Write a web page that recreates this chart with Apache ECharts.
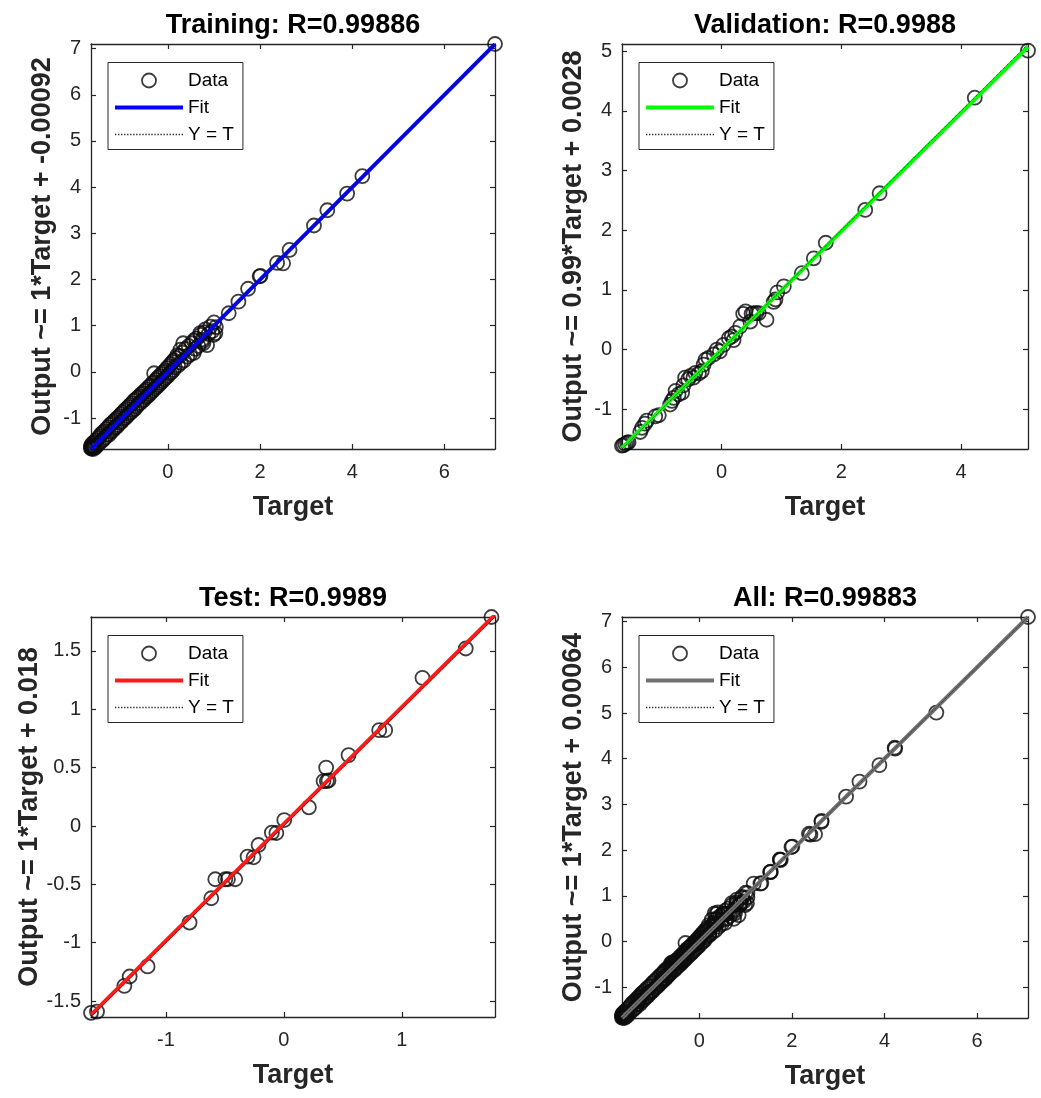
<!DOCTYPE html>
<html>
<head>
<meta charset="utf-8">
<title>Regression</title>
<script src="https://cdn.jsdelivr.net/npm/echarts@6/dist/echarts.min.js"></script>
<style>
  html, body { margin: 0; padding: 0; background: #ffffff; }
  #chart { width: 1041px; height: 1098px; }
</style>
</head>
<body>
<div id="chart"></div>
<script>
// [target, output] pairs for each data split
const trainingData = [
  [-1.67,-1.62],[-1.67,-1.66],[-1.66,-1.58],[-1.66,-1.64],[-1.65,-1.66],[-1.65,-1.61],[-1.64,-1.6],
  [-1.63,-1.55],[-1.62,-1.67],[-1.61,-1.62],[-1.6,-1.52],[-1.58,-1.64],[-1.56,-1.48],[-1.54,-1.6],
  [-1.52,-1.44],[-1.5,-1.55],[-1.48,-1.4],[-1.46,-1.36],[-1.44,-1.5],[-1.42,-1.32],[-1.4,-1.46],
  [-1.38,-1.29],[-1.36,-1.42],[-1.34,-1.24],[-1.32,-1.36],[-1.3,-1.2],[-1.28,-1.36],[-1.26,-1.15],
  [-1.24,-1.3],[-1.22,-1.12],[-1.2,-1.27],[-1.18,-1.08],[-1.16,-1.22],[-1.14,-1.04],[-1.12,-1.19],
  [-1.1,-1.0],[-1.08,-1.15],[-1.06,-0.97],[-1.04,-1.1],[-1.02,-0.92],[-1.0,-1.07],[-0.98,-0.88],
  [-0.96,-1.02],[-0.94,-0.84],[-0.92,-0.99],[-0.9,-0.8],[-0.88,-0.95],[-0.86,-0.76],[-0.84,-0.9],
  [-0.82,-0.72],[-0.8,-0.87],[-0.78,-0.68],[-0.76,-0.83],[-0.74,-0.63],[-0.72,-0.8],[-0.7,-0.6],
  [-0.68,-0.75],[-0.66,-0.56],[-0.64,-0.7],[-0.62,-0.53],[-0.6,-0.67],[-0.58,-0.48],[-0.56,-0.63],
  [-0.54,-0.46],[-0.52,-0.6],[-0.5,-0.41],[-0.48,-0.55],[-0.46,-0.38],[-0.44,-0.52],[-0.42,-0.33],
  [-0.4,-0.48],[-0.38,-0.3],[-0.36,-0.44],[-0.34,-0.25],[-0.32,-0.4],[-0.3,-0.03],[-0.3,-0.22],
  [-0.28,-0.36],[-0.26,-0.17],[-0.24,-0.32],[-0.22,-0.13],[-0.2,-0.28],[-0.18,-0.09],[-0.16,-0.24],
  [-0.14,-0.05],[-0.12,-0.2],[-0.1,-0.01],[-0.08,-0.16],[-0.06,0.03],[-0.04,-0.12],[-0.02,0.08],
  [0.0,-0.08],[0.02,0.12],[0.04,-0.03],[0.06,0.17],[0.08,0.0],[0.1,0.21],[0.12,0.04],[0.13,0.25],
  [0.15,0.1],[0.18,0.3],[0.2,0.36],[0.22,0.14],[0.25,0.34],[0.27,0.48],[0.28,0.2],[0.32,0.42],
  [0.33,0.62],[0.35,0.25],[0.38,0.5],[0.42,0.33],[0.45,0.56],[0.48,0.38],[0.52,0.62],[0.56,0.41],
  [0.56,0.68],[0.59,0.5],[0.62,0.72],[0.66,0.56],[0.7,0.84],[0.71,0.8],[0.74,0.7],[0.75,0.66],
  [0.77,0.62],[0.8,0.86],[0.81,0.92],[0.85,0.58],[0.88,0.82],[0.92,0.98],[0.96,0.88],[0.99,0.8],
  [1.0,1.07],[1.03,0.84],[1.04,0.97],[1.32,1.27],[1.53,1.52],[1.74,1.8],[1.99,2.07],[2.01,2.08],
  [2.37,2.36],[2.5,2.35],[2.64,2.64],[3.17,3.17],[3.46,3.5],[3.89,3.86],[4.22,4.24],[7.1,7.1]
];
const validationData = [
  [-1.665,-1.61],[-1.64,-1.6],[-1.61,-1.58],[-1.58,-1.56],[-1.555,-1.55],[-1.36,-1.38],[-1.33,-1.31],
  [-1.28,-1.24],[-1.25,-1.19],[-1.11,-1.12],[-1.05,-1.1],[-0.86,-0.92],[-0.83,-0.86],[-0.8,-0.81],
  [-0.77,-0.69],[-0.72,-0.75],[-0.66,-0.72],[-0.64,-0.6],[-0.61,-0.47],[-0.56,-0.5],[-0.52,-0.44],
  [-0.47,-0.47],[-0.44,-0.39],[-0.38,-0.4],[-0.33,-0.36],[-0.3,-0.25],[-0.27,-0.17],[-0.22,-0.14],
  [-0.13,-0.08],[-0.08,0.0],[-0.03,-0.03],[0.03,0.08],[0.12,0.19],[0.17,0.22],[0.2,0.16],[0.23,0.28],
  [0.31,0.39],[0.36,0.6],[0.4,0.64],[0.48,0.47],[0.5,0.6],[0.53,0.61],[0.58,0.61],[0.62,0.61],
  [0.75,0.5],[0.87,0.8],[0.9,0.84],[0.93,0.96],[1.04,1.06],[1.34,1.28],[1.54,1.53],[1.74,1.79],
  [2.4,2.34],[2.64,2.62],[4.23,4.22],[5.12,5.01]
];
const testData = [
  [-1.636,-1.6],[-1.585,-1.59],[-1.353,-1.369],[-1.308,-1.289],[-1.156,-1.203],[-0.8,-0.827],
  [-0.616,-0.619],[-0.582,-0.456],[-0.497,-0.456],[-0.475,-0.456],[-0.413,-0.456],[-0.308,-0.262],
  [-0.257,-0.268],[-0.215,-0.163],[-0.102,-0.057],[-0.064,-0.06],[0.003,0.051],[0.212,0.16],
  [0.336,0.385],[0.358,0.5],[0.364,0.385],[0.378,0.39],[0.548,0.607],[0.808,0.821],[0.859,0.821],
  [1.175,1.269],[1.542,1.52],[1.76,1.79]
];
const allData = trainingData.concat(validationData, testData);

const panelData = [trainingData, validationData, testData, allData];
const panelTitles = ['Training: R=0.99886', 'Validation: R=0.9988', 'Test: R=0.9989', 'All: R=0.99883'];
const fitSlopes = [1, 0.99, 1, 1];
const fitIntercepts = [-0.00092, 0.0028, 0.018, 0.00064];
const fitColors = ['#0000ff', '#00ff00', '#ff1a1a', '#707070'];
const xTickValues = [[0, 2, 4, 6], [0, 2, 4], [-1, 0, 1], [0, 2, 4, 6]];
const yTickValues = [
  [-1, 0, 1, 2, 3, 4, 5, 6, 7],
  [-1, 0, 1, 2, 3, 4, 5],
  [-1.5, -1, -0.5, 0, 0.5, 1, 1.5],
  [-1, 0, 1, 2, 3, 4, 5, 6, 7]
];

// plot boxes in pixels
const boxes = [
  { left: 91, top: 44, width: 404, height: 405 },
  { left: 622, top: 44, width: 406, height: 405 },
  { left: 91, top: 617, width: 404, height: 400 },
  { left: 622, top: 617, width: 406, height: 401 }
];

const FONT = '"Liberation Sans", Arial, Helvetica, sans-serif';
const AXIS_COLOR = '#262626';

// dotted legend sample for the identity line
let dotPath = 'path://';
for (let k = 0; k < 23; k++) dotPath += 'M' + (3 * k) + ',0h1.3v1.3h-1.3z';
const barPath = 'path://M0,0L68,0L68,4L0,4Z';

const option = {
  backgroundColor: '#ffffff',
  animation: false,
  title: [], grid: [], xAxis: [], yAxis: [], legend: [], series: []
};

panelData.forEach((pts, i) => {
  const b = boxes[i];
  let lo = Infinity, hi = -Infinity;
  pts.forEach(p => { lo = Math.min(lo, p[0], p[1]); hi = Math.max(hi, p[0], p[1]); });

  option.grid.push({ left: b.left, top: b.top, width: b.width, height: b.height, containLabel: false });

  option.title.push({
    text: panelTitles[i],
    left: b.left + b.width / 2,
    top: b.top - 32,
    textAlign: 'center',
    padding: 0,
    textStyle: { fontFamily: FONT, fontSize: 27, fontWeight: 'bold', color: '#000' }
  });

  const tickCommon = { show: true, inside: true, length: 5, lineStyle: { color: AXIS_COLOR, width: 1.2 } };
  const lineCommon = { show: true, onZero: false, lineStyle: { color: AXIS_COLOR, width: 1.3 } };

  option.xAxis.push({
    type: 'value', gridIndex: i, position: 'bottom', min: lo, max: hi,
    axisLine: lineCommon,
    axisTick: Object.assign({ customValues: xTickValues[i] }, tickCommon),
    axisLabel: { customValues: xTickValues[i], margin: 13, fontFamily: FONT, fontSize: 20, color: AXIS_COLOR },
    splitLine: { show: false },
    name: 'Target', nameLocation: 'middle', nameGap: 45,
    nameTextStyle: { fontFamily: FONT, fontSize: 27, fontWeight: 'bold', color: AXIS_COLOR }
  });
  option.xAxis.push({
    type: 'value', gridIndex: i, position: 'top', min: lo, max: hi,
    axisLine: lineCommon,
    axisTick: Object.assign({ customValues: xTickValues[i] }, tickCommon),
    axisLabel: { show: false }, splitLine: { show: false }
  });

  const yName = 'Output ~= ' + fitSlopes[i] + '*Target + ' + fitIntercepts[i];
  option.yAxis.push({
    type: 'value', gridIndex: i, position: 'left', min: lo, max: hi,
    axisLine: lineCommon,
    axisTick: Object.assign({ customValues: yTickValues[i] }, tickCommon),
    axisLabel: { customValues: yTickValues[i], margin: 10, fontFamily: FONT, fontSize: 20, color: AXIS_COLOR },
    splitLine: { show: false },
    name: yName, nameLocation: 'middle', nameGap: 35,
    nameTextStyle: { fontFamily: FONT, fontSize: 27, fontWeight: 'bold', color: AXIS_COLOR }
  });
  option.yAxis.push({
    type: 'value', gridIndex: i, position: 'right', min: lo, max: hi,
    axisLine: lineCommon,
    axisTick: Object.assign({ customValues: yTickValues[i] }, tickCommon),
    axisLabel: { show: false }, splitLine: { show: false }
  });

  const tag = '|' + i;
  option.legend.push({
    left: b.left + 17, top: b.top + 18.5,
    orient: 'vertical', selectedMode: false, symbolKeepAspect: true,
    backgroundColor: '#ffffff', borderColor: AXIS_COLOR, borderWidth: 1, borderRadius: 0,
    padding: [8, 9, 5, 7], itemWidth: 68, itemHeight: 14, itemGap: 7,
    textStyle: { fontFamily: FONT, fontSize: 19, color: '#000', lineHeight: 20 },
    formatter: name => name.split('|')[0],
    data: [
      { name: 'Data' + tag, icon: 'circle', itemStyle: { color: 'rgba(0,0,0,0)', borderColor: '#0d0d0d', borderWidth: 1.8 } },
      { name: 'Fit' + tag, icon: barPath, itemStyle: { color: fitColors[i], borderWidth: 0 } },
      { name: 'Y = T' + tag, icon: dotPath, itemStyle: { color: AXIS_COLOR, borderWidth: 0 } }
    ]
  });

  const xi = 2 * i, yi = 2 * i;
  option.series.push({
    name: 'Fit' + tag, type: 'line', xAxisIndex: xi, yAxisIndex: yi,
    symbol: 'none', silent: true, clip: true,
    lineStyle: { color: fitColors[i], width: 4 },
    itemStyle: { color: fitColors[i] },
    data: [[lo, fitSlopes[i] * lo + fitIntercepts[i]], [hi, fitSlopes[i] * hi + fitIntercepts[i]]]
  });
  option.series.push({
    name: 'Y = T' + tag, type: 'line', xAxisIndex: xi, yAxisIndex: yi,
    symbol: 'none', silent: true, clip: true,
    lineStyle: { color: AXIS_COLOR, width: 1, type: 'dotted' },
    itemStyle: { color: AXIS_COLOR },
    data: [[lo, lo], [hi, hi]]
  });
  option.series.push({
    name: 'Data' + tag, type: 'scatter', xAxisIndex: xi, yAxisIndex: yi,
    symbol: 'circle', symbolSize: 14, silent: true,
    itemStyle: { color: 'rgba(0,0,0,0)', borderColor: '#0d0d0d', borderWidth: 1.8 },
    emphasis: { disabled: true },
    data: pts
  });
});

const chart = echarts.init(document.getElementById('chart'), null, { renderer: 'canvas' });
chart.setOption(option);
</script>
</body>
</html>
